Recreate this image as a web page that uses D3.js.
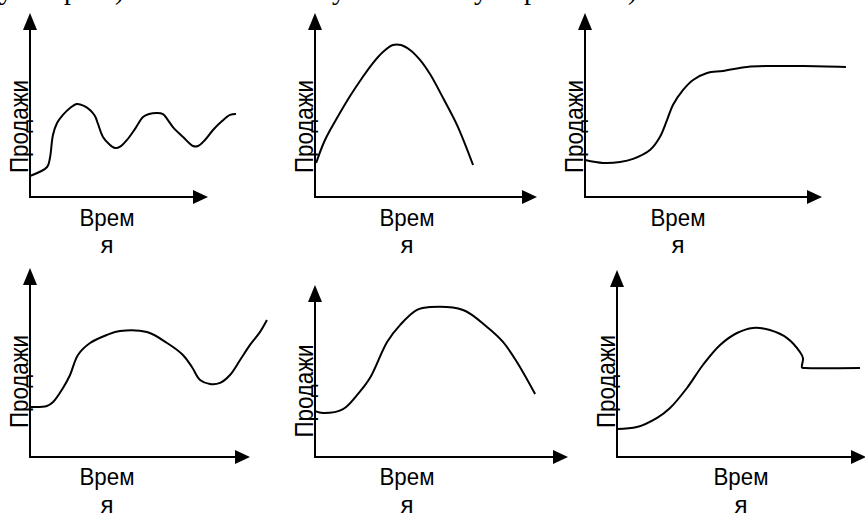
<!DOCTYPE html>
<html><head><meta charset="utf-8">
<script src="https://cdn.jsdelivr.net/npm/d3@7"></script>
<style>body{margin:0;background:#fff} svg{display:block}</style>
</head><body>
<svg id="c" width="865" height="515"></svg>
<script>
// ---- text ----
const yLabel = "Продажи";
const xLabelTop = "Врем";
const xLabelBottom = "я";
const topGlyphs = ["у", "р", ")", "у", "у", "р", ")"];

// ---- data (time, sales), arbitrary units: 100 = arrow tip ----
const p1Time  = [0,9.6,11.2,12.9,15.2,18.5,22.5,26.4,30.3,33.7,36.5,38.2,41.0,44.4,47.8,51.1,54.5,59.0,63.5,66.9,71.3,74.7,77.5,80.3,86.0,91.6,94.4,98.3,102.8,107.9,112.4,115.7];
const p1Sales = [11.4,16.3,21.2,33.7,40.2,44.6,48.4,50.5,49.5,47.3,44.0,39.7,32.6,28.8,26.6,27.7,31.0,37.0,43.5,45.1,45.7,45.1,41.8,38.0,32.6,27.7,27.7,31.0,36.4,41.3,44.6,45.1];

const p2Time  = [0.5,4.5,9.9,15.8,21.2,26.1,30.6,35.1,38.7,42.8,47.3,51.8,57.7,64.0,71.2];
const p2Sales = [18.5,31.0,42.9,54.9,64.7,72.8,78.8,82.6,82.6,79.9,74.5,66.8,53.8,39.1,17.4];

const p3Time  = [0,7.6,14.8,20.3,27.4,31.6,34.6,37.1,41.4,45.6,51.5,58.2,68.4,78.1,92.0,110.1];
const p3Sales = [20.1,18.5,19.0,20.7,25.5,32.6,41.8,50.0,58.2,63.6,67.4,68.5,70.7,71.2,71.2,70.7];

const p4Time  = [0,7.7,10.5,15.0,18.2,21.8,27.3,35.0,40.9,53.2,62.3,69.5,73.6,77.3,81.8,86.4,90.9,95.5,100.0,104.5,107.7];
const p4Sales = [26.5,27.0,29.1,36.5,43.4,54.0,60.3,64.6,66.7,66.1,60.3,54.0,47.6,40.7,38.6,39.2,43.4,51.3,59.3,66.1,72.5];

const p5Time  = [0,3.2,11.1,16.6,21.7,28.5,33.6,40.3,45.5,58.5,68.0,74.3,79.8,87.0];
const p5Sales = [26.7,25.6,27.9,36.0,45.9,66.9,76.7,85.5,87.2,85.5,75.6,66.9,55.2,36.6];

const p6Time  = [0,8.0,16.1,21.3,28.1,34.5,41.4,48.2,54.6,61.4,68.3,73.5,74.7,74.3,75.5,97.6];
const p6Sales = [15.0,16.0,20.9,26.2,36.9,49.2,59.9,66.3,69.0,67.9,63.6,56.1,52.9,47.8,47.6,47.6];

const series = [[p1Time,p1Sales],[p2Time,p2Sales],[p3Time,p3Sales],[p4Time,p4Sales],[p5Time,p5Sales],[p6Time,p6Sales]];

// ---- layout (pixels) ----
const layout = [
  {ax:30,  ay:197, tx:208, ty:13,  lx:28,  ly:126.5, cx:107, by:[226,253]},
  {ax:315, ay:197, tx:537, ty:13,  lx:313, ly:126.5, cx:407, by:[226,253]},
  {ax:585, ay:197, tx:822, ty:13,  lx:583, ly:126.5, cx:678, by:[226,253]},
  {ax:30,  ay:457, tx:250, ty:268, lx:28,  ly:381.5, cx:107, by:[485,513]},
  {ax:315, ay:457, tx:568, ty:285, lx:313, ly:391,   cx:407, by:[485,513]},
  {ax:617, ay:457, tx:866, ty:270, lx:615, ly:381.5, cx:741, by:[485,513]}
];
const topX = [-1, 64, 115, 332, 474, 524, 628];

const svg = d3.select("#c");
const sans = "'Liberation Sans', Arial, sans-serif";

// cut-off line of text at top
svg.append("g").selectAll("text").data(topGlyphs).join("text")
  .attr("x", (d,i) => topX[i]).attr("y", -1)
  .attr("font-family", "'Liberation Serif', 'Times New Roman', serif")
  .attr("font-size", 28).attr("fill", "#000").text(d => d);

layout.forEach((L, i) => {
  const x = d3.scaleLinear([0,100],[L.ax, L.tx]);
  const y = d3.scaleLinear([0,100],[L.ay, L.ty]);
  const g = svg.append("g");

  // y label (rotated)
  g.append("text")
    .attr("transform", `translate(${L.lx},${L.ly}) rotate(-90)`)
    .attr("text-anchor", "middle")
    .attr("font-family", sans).attr("font-size", 25)
    .attr("textLength", 93).attr("lengthAdjust", "spacingAndGlyphs")
    .text(yLabel);

  // axes
  g.append("line").attr("x1", x(0)).attr("y1", y(0)).attr("x2", x(0)).attr("y2", y(100) + 10)
    .attr("stroke", "#000").attr("stroke-width", 2);
  g.append("line").attr("x1", x(0) - 1).attr("y1", y(0)).attr("x2", x(100) - 10).attr("y2", y(0))
    .attr("stroke", "#000").attr("stroke-width", 2);
  g.append("path")
    .attr("d", `M${x(0)},${y(100)} L${x(0)-7},${y(100)+17} L${x(0)+7},${y(100)+17} Z`)
    .attr("fill", "#000");
  g.append("path")
    .attr("d", `M${x(100)},${y(0)} L${x(100)-15},${y(0)-7} L${x(100)-15},${y(0)+7} Z`)
    .attr("fill", "#000");

  // x label
  g.append("text").attr("x", L.cx).attr("y", L.by[0]).attr("text-anchor", "middle")
    .attr("font-family", sans).attr("font-size", 24)
    .attr("textLength", 55).attr("lengthAdjust", "spacingAndGlyphs")
    .text(xLabelTop);
  g.append("text").attr("x", L.cx).attr("y", L.by[1]).attr("text-anchor", "middle")
    .attr("font-family", sans).attr("font-size", 24)
    .text(xLabelBottom);

  // curve
  const [t, s] = series[i];
  const pts = t.map((v, k) => [v, s[k]]);
  g.append("path").datum(pts)
    .attr("d", d3.line().x(d => x(d[0])).y(d => y(d[1])).curve(d3.curveCatmullRom.alpha(0.5)))
    .attr("fill", "none").attr("stroke", "#000").attr("stroke-width", 2)
    .attr("stroke-linejoin", "round");
});
</script>
</body></html>
